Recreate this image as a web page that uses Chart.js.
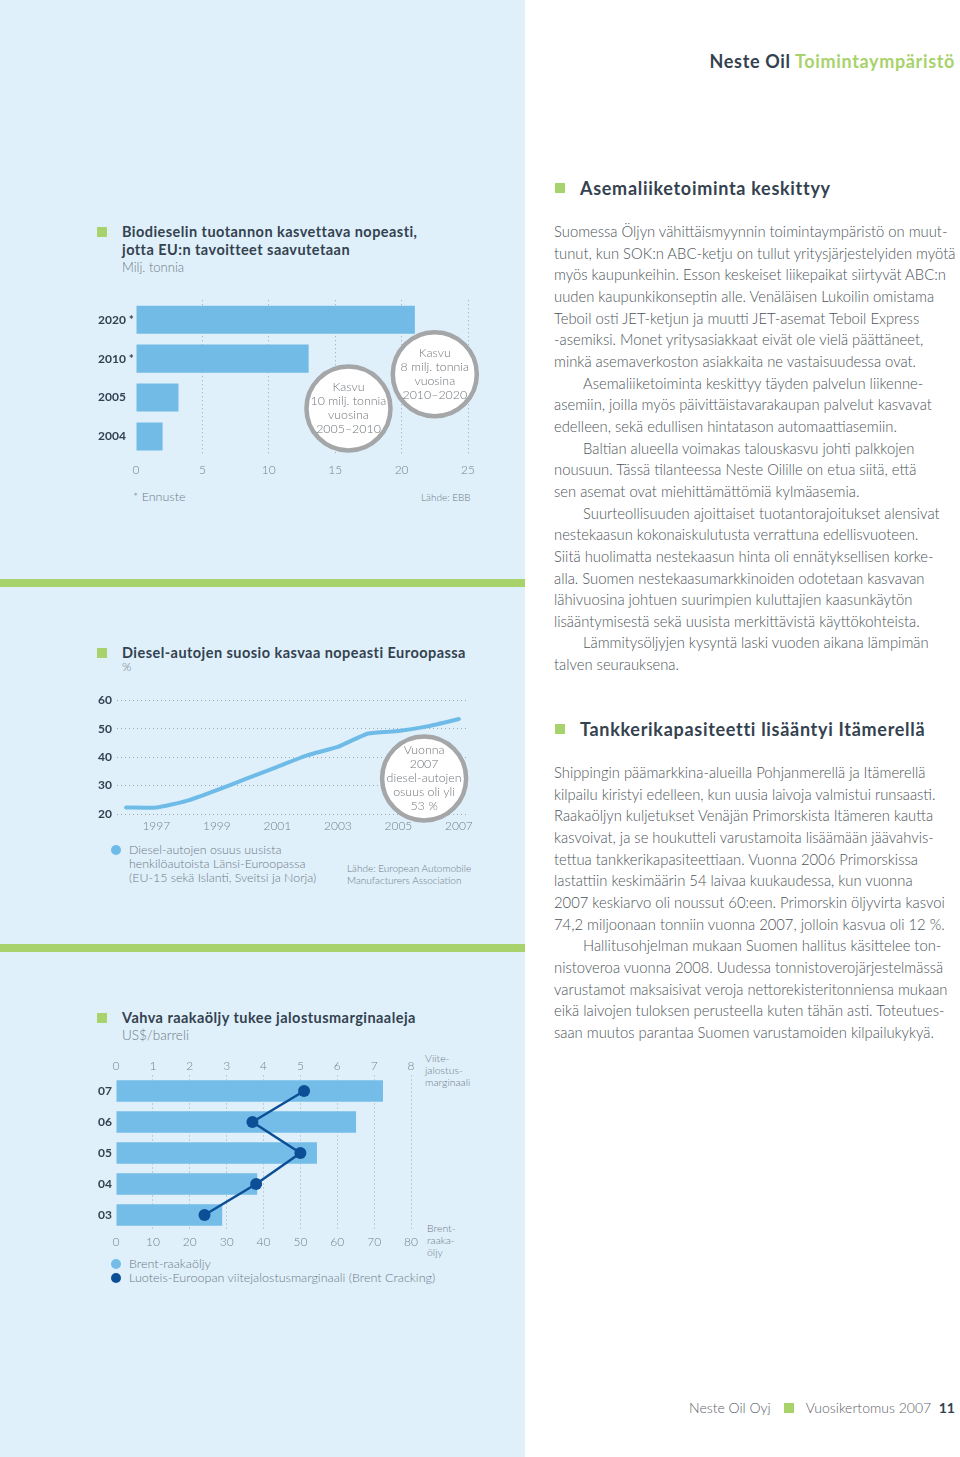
<!DOCTYPE html>
<html>
<head>
<meta charset="utf-8">
<script src="https://cdn.jsdelivr.net/npm/chart.js@4.4.0/dist/chart.umd.min.js"></script>
<style>
body { margin:0; width:960px; height:1457px; position:relative; background:#fff; overflow:hidden;
       font-family: Lato, "Noto Sans", sans-serif; }
.panel { position:absolute; left:0; top:0; width:525px; height:1457px; background:#dff0fb; }
.sep { position:absolute; left:0; width:525px; height:8px; background:#a8d26b; }
.abs { position:absolute; white-space:nowrap; }
.sq { position:absolute; width:10px; height:10px; background:#a8d26b; }
.h { font-weight:700; color:#34424f; }
.big { font-size:18px; letter-spacing:0.7px; line-height:22px; }
.ct { font-size:14.5px; letter-spacing:0.45px; line-height:18px; }
.sub { font-weight:300; color:#6f7a84; }
.body { font-weight:300; color:#4d5459; font-size:14.8px; line-height:21.65px; }
.ind { padding-left:29px; }
.dot { position:absolute; width:10px; height:10px; border-radius:50%; }
canvas { position:absolute; }
</style>
</head>
<body>
<div class="panel"></div>
<div class="sep" style="top:579px"></div>
<div class="sep" style="top:944px"></div>

<!-- header -->
<div class="abs h" style="right:5px; top:50px; font-size:18px; letter-spacing:0.65px; line-height:22px">Neste Oil <span style="color:#a8d26b">Toimintaympäristö</span></div>

<!-- chart 1 texts -->
<div class="sq" style="left:97px; top:227px"></div>
<div class="abs h ct" style="left:122px; top:223px">Biodieselin tuotannon kasvettava nopeasti,<br>jotta EU:n tavoitteet saavutetaan</div>
<div class="abs sub" style="left:122px; top:258px; font-size:13px; line-height:18px">Milj. tonnia</div>
<div class="abs sub" style="left:133px; top:489px; font-size:12.5px; line-height:16px">* Ennuste</div>
<div class="abs sub" style="left:421px; top:491px; font-size:10px; line-height:13px">Lähde: EBB</div>
<canvas id="bioChart" width="392" height="190" style="left:98px; top:290px; width:392px; height:190px"></canvas>

<!-- chart 2 texts -->
<div class="sq" style="left:97px; top:648px"></div>
<div class="abs h ct" style="left:122px; top:644px">Diesel-autojen suosio kasvaa nopeasti Euroopassa</div>
<div class="abs sub" style="left:122px; top:660px; font-size:12px; line-height:14px">%</div>
<canvas id="dieselChart" width="380" height="148" style="left:98px; top:690px; width:380px; height:148px"></canvas>
<div class="dot" style="left:111px; top:845px; background:#6fbbe8"></div>
<div class="abs sub" style="left:129px; top:843px; font-size:12.4px; line-height:14px">Diesel-autojen osuus uusista<br>henkilöautoista Länsi-Euroopassa<br>(EU-15 sekä Islanti, Sveitsi ja Norja)</div>
<div class="abs sub" style="left:347px; top:863px; font-size:10px; line-height:11.5px">Lähde: European Automobile<br>Manufacturers Association</div>

<!-- chart 3 texts -->
<div class="sq" style="left:97px; top:1013px"></div>
<div class="abs h ct" style="left:122px; top:1009px">Vahva raakaöljy tukee jalostusmarginaaleja</div>
<div class="abs sub" style="left:122px; top:1026px; font-size:13.5px; line-height:18px">US$/barreli</div>
<div class="abs sub" style="left:425px; top:1052px; font-size:10.5px; line-height:12px">Viite-<br>jalostus-<br>marginaali</div>
<div class="abs sub" style="left:427px; top:1222px; font-size:10.5px; line-height:12px">Brent-<br>raaka-<br>öljy</div>
<canvas id="crudeChart" width="325" height="205" style="left:98px; top:1050px; width:325px; height:205px"></canvas>
<div class="dot" style="left:111px; top:1259px; background:#74bde8"></div>
<div class="dot" style="left:111px; top:1273px; background:#0d4f96"></div>
<div class="abs sub" style="left:129px; top:1257px; font-size:12.6px; line-height:14px">Brent-raakaöljy<br>Luoteis-Euroopan viitejalostusmarginaali (Brent Cracking)</div>

<!-- right column -->
<div class="sq" style="left:555px; top:183px"></div>
<div class="abs h big" style="left:580px; top:177px">Asemaliiketoiminta keskittyy</div>
<div class="abs body" style="left:554px; top:221px">
Suomessa Öljyn vähittäismyynnin toimintaympäristö on muut-<br>
tunut, kun SOK:n ABC-ketju on tullut yritysjärjestelyiden myötä<br>
myös kaupunkeihin. Esson keskeiset liikepaikat siirtyvät ABC:n<br>
uuden kaupunkikonseptin alle. Venäläisen Lukoilin omistama<br>
Teboil osti JET-ketjun ja muutti JET-asemat Teboil Express<br>
-asemiksi. Monet yritysasiakkaat eivät ole vielä päättäneet,<br>
minkä asemaverkoston asiakkaita ne vastaisuudessa ovat.<br>
<span class="ind">Asemaliiketoiminta keskittyy täyden palvelun liikenne-</span><br>
asemiin, joilla myös päivittäistavarakaupan palvelut kasvavat<br>
edelleen, sekä edullisen hintatason automaattiasemiin.<br>
<span class="ind">Baltian alueella voimakas talouskasvu johti palkkojen</span><br>
nousuun. Tässä tilanteessa Neste Oilille on etua siitä, että<br>
sen asemat ovat miehittämättömiä kylmäasemia.<br>
<span class="ind">Suurteollisuuden ajoittaiset tuotantorajoitukset alensivat</span><br>
nestekaasun kokonaiskulutusta verrattuna edellisvuoteen.<br>
Siitä huolimatta nestekaasun hinta oli ennätyksellisen korke-<br>
alla. Suomen nestekaasumarkkinoiden odotetaan kasvavan<br>
lähivuosina johtuen suurimpien kuluttajien kaasunkäytön<br>
lisääntymisestä sekä uusista merkittävistä käyttökohteista.<br>
<span class="ind">Lämmitysöljyjen kysyntä laski vuoden aikana lämpimän</span><br>
talven seurauksena.
</div>

<div class="sq" style="left:555px; top:724px"></div>
<div class="abs h big" style="left:580px; top:718px">Tankkerikapasiteetti lisääntyi Itämerellä</div>
<div class="abs body" style="left:554px; top:762px">
Shippingin päämarkkina-alueilla Pohjanmerellä ja Itämerellä<br>
kilpailu kiristyi edelleen, kun uusia laivoja valmistui runsaasti.<br>
Raakaöljyn kuljetukset Venäjän Primorskista Itämeren kautta<br>
kasvoivat, ja se houkutteli varustamoita lisäämään jäävahvis-<br>
tettua tankkerikapasiteettiaan. Vuonna 2006 Primorskissa<br>
lastattiin keskimäärin 54 laivaa kuukaudessa, kun vuonna<br>
2007 keskiarvo oli noussut 60:een. Primorskin öljyvirta kasvoi<br>
74,2 miljoonaan tonniin vuonna 2007, jolloin kasvua oli 12 %.<br>
<span class="ind">Hallitusohjelman mukaan Suomen hallitus käsittelee ton-</span><br>
nistoveroa vuonna 2008. Uudessa tonnistoverojärjestelmässä<br>
varustamot maksaisivat veroja nettorekisteritonniensa mukaan<br>
eikä laivojen tuloksen perusteella kuten tähän asti. Toteutues-<br>
saan muutos parantaa Suomen varustamoiden kilpailukykyä.
</div>

<!-- footer -->
<div class="abs" style="right:5px; top:1399px; font-size:14px; line-height:18px; color:#5a6168; font-weight:300">
Neste Oil Oyj <span style="display:inline-block; width:10px; height:10px; background:#a8d26b; margin:0 9px 0 9px"></span> Vuosikertomus 2007&nbsp; <b style="color:#34424f; font-weight:700">11</b></div>

<script>
// biodiesel production, million tonnes
const bioYears = ['2020 *', '2010 *', '2005', '2004'];
const bioTonnes = [21.0, 13.0, 3.2, 2.0];

// diesel share of new cars, %
const dieselYears = [1996, 1997, 1998, 1999, 2000, 2001, 2002, 2003, 2004, 2005, 2006, 2007];
const dieselShare = [22.3, 22.3, 24.6, 28.4, 32.5, 36.6, 40.7, 43.6, 48.3, 49.2, 50.9, 53.4];
const dieselYearTicks = [1997, 1999, 2001, 2003, 2005, 2007];

// crude oil vs refining margin, US$/bbl
const crudeYears = ['07', '06', '05', '04', '03'];
const brentPrice = [72.4, 65.1, 54.5, 38.3, 28.8];
const crackingMargin = [5.1, 3.7, 5.0, 3.8, 2.4];

Chart.defaults.font.family = 'Lato, "Noto Sans", sans-serif';
Chart.defaults.animation = false;
Chart.defaults.plugins.legend.display = false;
Chart.defaults.plugins.tooltip.enabled = false;

const DARK = '#34424f';
const GREY = '#76818b';
const DOTS = '#9eabb6';
const NOGRID = { display: false, drawTicks: false };

// white circle badges with a grey ring
const badgePlugin = {
    id: 'badges',
    afterDatasetsDraw(chart, args, opts) {
        const ctx = chart.ctx;
        (opts.items || []).forEach(it => {
            const x = chart.scales[it.xAxis || 'x'].getPixelForValue(it.x);
            const y = chart.scales[it.yAxis || 'y'].getPixelForValue(it.y);
            ctx.save();
            ctx.beginPath();
            ctx.arc(x, y, 42, 0, Math.PI * 2);
            ctx.fillStyle = '#ffffff';
            ctx.fill();
            ctx.lineWidth = 4.5;
            ctx.strokeStyle = '#a4a6a8';
            ctx.stroke();
            ctx.fillStyle = '#72777c';
            ctx.font = '300 12.4px Lato, "Noto Sans", sans-serif';
            ctx.textAlign = 'center';
            ctx.textBaseline = 'middle';
            const n = it.lines.length;
            it.lines.forEach((t, i) => ctx.fillText(t, x, y + (i - (n - 1) / 2) * 14));
            ctx.restore();
        });
    }
};

const dottedGrid = (hideZero) => ({
    color: (c) => (hideZero && c.tick && c.tick.value === 0) ? 'rgba(0,0,0,0)' : DOTS,
    lineWidth: 1,
    drawTicks: false
});

// --- chart 1
new Chart(document.getElementById('bioChart'), {
    type: 'bar',
    data: {
        labels: bioYears,
        datasets: [{
            data: bioTonnes,
            backgroundColor: '#72bbe6',
            barPercentage: 0.72,
            categoryPercentage: 1
        }]
    },
    options: {
        responsive: false,
        indexAxis: 'y',
        layout: { padding: { top: 7, right: 22, left: 0, bottom: 0 } },
        scales: {
            x: {
                type: 'linear', min: 0, max: 25,
                ticks: { stepSize: 5, padding: 7, color: GREY, font: { size: 12, weight: '300' } },
                grid: dottedGrid(true),
                border: { display: false, dash: [1, 3] },
                afterFit(s) { s.height = 24; }
            },
            y: {
                ticks: { crossAlign: 'far', color: DARK, font: { size: 12, weight: 'bold' } },
                grid: NOGRID,
                border: { display: false },
                afterFit(s) { s.width = 38; }
            }
        },
        plugins: {
            badges: {
                items: [
                    { x: 16.0, y: 2.28, lines: ['Kasvu', '10 milj. tonnia', 'vuosina', '2005–2010'] },
                    { x: 22.5, y: 1.4, lines: ['Kasvu', '8 milj. tonnia', 'vuosina', '2010–2020'] }
                ]
            }
        }
    },
    plugins: [badgePlugin]
});

// --- chart 2
new Chart(document.getElementById('dieselChart'), {
    type: 'line',
    data: {
        datasets: [{
            data: dieselYears.map((yr, i) => ({ x: yr, y: dieselShare[i] })),
            borderColor: '#6fbbe8',
            borderWidth: 4,
            borderCapStyle: 'round',
            pointRadius: 0,
            tension: 0.15,
            fill: false
        }]
    },
    options: {
        responsive: false,
        layout: { padding: { top: 9, right: 8, left: 0, bottom: 0 } },
        scales: {
            x: {
                type: 'linear', min: 1995.7, max: 2007.25,
                afterBuildTicks(s) { s.ticks = dieselYearTicks.map(v => ({ value: v })); },
                ticks: { padding: 5, color: GREY, font: { size: 12, weight: '300' }, callback: v => String(v) },
                grid: NOGRID,
                border: { display: false },
                afterFit(s) { s.height = 24; }
            },
            y: {
                min: 20, max: 60,
                ticks: { stepSize: 10, crossAlign: 'far', color: DARK, font: { size: 12, weight: 'bold' } },
                grid: dottedGrid(false),
                border: { display: false, dash: [1, 3] },
                afterFit(s) { s.width = 19; }
            }
        },
        plugins: {
            badges: {
                items: [
                    { x: 2005.85, y: 32.5, lines: ['Vuonna', '2007', 'diesel-autojen', 'osuus oli yli', '53 %'] }
                ]
            }
        }
    },
    plugins: [badgePlugin]
});

// --- chart 3
new Chart(document.getElementById('crudeChart'), {
    type: 'bar',
    data: {
        labels: crudeYears,
        datasets: [
            {
                type: 'line',
                indexAxis: 'y',
                data: crackingMargin,
                xAxisID: 'x2',
                yAxisID: 'y',
                borderColor: '#0d4f96',
                borderWidth: 2.5,
                pointRadius: 6,
                pointBackgroundColor: '#0d4f96',
                pointBorderWidth: 0,
                tension: 0,
                order: 0
            },
            {
                type: 'bar',
                data: brentPrice,
                xAxisID: 'x',
                yAxisID: 'y',
                backgroundColor: '#74bde8',
                barPercentage: 0.7,
                categoryPercentage: 1,
                order: 1
            }
        ]
    },
    options: {
        responsive: false,
        indexAxis: 'y',
        layout: { padding: { top: 0, right: 12, left: 0, bottom: 0 } },
        scales: {
            x: {
                type: 'linear', position: 'bottom', min: 0, max: 80,
                ticks: { stepSize: 10, padding: 4, color: GREY, font: { size: 12, weight: '300' } },
                grid: dottedGrid(true),
                border: { display: false, dash: [1, 3] },
                afterFit(s) { s.height = 24.5; }
            },
            x2: {
                type: 'linear', position: 'top', min: 0, max: 8,
                ticks: { stepSize: 1, padding: 2, color: GREY, font: { size: 12, weight: '300' } },
                grid: NOGRID,
                border: { display: false },
                afterFit(s) { s.height = 25.5; }
            },
            y: {
                type: 'category',
                ticks: { crossAlign: 'far', color: DARK, font: { size: 12, weight: 'bold' } },
                grid: NOGRID,
                border: { display: false },
                afterFit(s) { s.width = 18; }
            }
        }
    }
});
</script>
</body>
</html>
